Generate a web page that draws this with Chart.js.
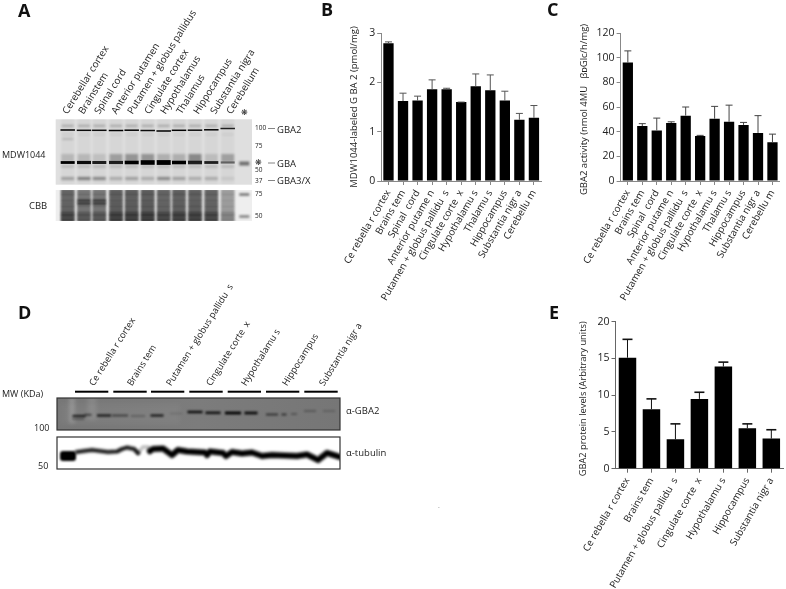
<!DOCTYPE html>
<html><head><meta charset="utf-8">
<style>
html,body{margin:0;padding:0;background:#fff;width:786px;height:589px;overflow:hidden}
#page{position:relative;width:786px;height:589px;font-family:"Open Sans",sans-serif;color:#222}
canvas{position:absolute}
.t{position:absolute;white-space:pre;line-height:1;transform-origin:0 100%}
.c{transform:translateY(-50%);transform-origin:0 50%}
</style>
<script src="https://cdn.jsdelivr.net/npm/chart.js@4/dist/chart.umd.min.js"></script>
</head><body><div id="page">
<canvas id="gels" width="786" height="589" style="left:0;top:0"></canvas>
<canvas id="chartB" style="left:330px;top:20px"></canvas>
<canvas id="chartC" style="left:560px;top:20px"></canvas>
<canvas id="chartE" style="left:560px;top:310px"></canvas>
</div>
<script>
// ---- data ----
const regions11 = ["Ce rebella r cortex","Brains tem","Spinal  cord","Anterior putame n","Putamen + globus pallidu  s","Cingulate corte  x","Hypothalamu s","Thalamu s","Hippocampus","Substantia nigr a","Cerebellu m"];
const regions7 = ["Ce rebella r cortex","Brains tem","Putamen + globus pallidu  s","Cingulate corte  x","Hypothalamu s","Hippocampus","Substantia nigr a"];
const laneLabelsA = ["Cerebellar cortex","Brainstem","Spinal cord","Anterior putamen","Putamen + globus pallidus","Cingulate cortex","Hypothalamus","Thalamus","Hippocampus","Substantia nigra","Cerebellum"];
const labeledGBA2 = [2.79,1.62,1.63,1.86,1.86,1.60,1.92,1.84,1.63,1.24,1.28];
const labeledGBA2Top = [2.82,1.78,1.72,2.05,1.88,1.60,2.17,2.15,1.82,1.37,1.53];
const activityGBA2 = [96,44.5,41,47,53,36.5,50.5,48,45.5,39,31.5];
const activityGBA2Top = [105.5,46.5,51,48,60,37,60.5,61.5,47.5,53,38];
const proteinGBA2 = [15.1,8.1,4.0,9.5,13.9,5.5,4.1];
const proteinGBA2Top = [17.6,9.5,6.1,10.4,14.5,6.1,5.3];
const ticksB = [0,1,2,3], ticksC = [0,20,40,60,80,100,120], ticksE = [0,5,10,15,20];

// ---- charts ----
const FONT = '"Open Sans",sans-serif';
const errorBars = {
  id:'errorBars',
  afterDatasetsDraw(chart, a, o){
    const ctx = chart.ctx, x = chart.scales.x, y = chart.scales.y;
    ctx.save(); ctx.strokeStyle = o.color; 
    o.top.forEach((v,i)=>{
      const px = x.getPixelForValue(i), b = y.getPixelForValue(chart.data.datasets[0].data[i]), t = y.getPixelForValue(v);
      ctx.lineWidth = 1; ctx.beginPath(); ctx.moveTo(px,b); ctx.lineTo(px,t); ctx.stroke();
      ctx.lineWidth = o.capWidth; ctx.beginPath(); ctx.moveTo(px-o.cap,t); ctx.lineTo(px+o.cap,t); ctx.stroke();
    });
    ctx.restore();
  }
};
function bar(id, cfg){
  const el = document.getElementById(id);
  el.style.width = cfg.w+'px'; el.style.height = cfg.h+'px';
  return new Chart(el,{
    type:'bar',
    data:{labels:cfg.labels,datasets:[{data:cfg.values,backgroundColor:'#000',categoryPercentage:cfg.barFrac,barPercentage:1}]},
    plugins:[errorBars],
    options:{
      responsive:false, animation:false, devicePixelRatio:1,
      layout:{padding:{top:cfg.top,right:cfg.right,left:0,bottom:0}},
      plugins:{legend:{display:false},tooltip:{enabled:false},errorBars:{top:cfg.tops,color:cfg.errColor,cap:cfg.cap,capWidth:cfg.capWidth}},
      scales:{
        x:{
          grid:{drawOnChartArea:false,tickLength:4,color:cfg.axisColor,offset:false},
          border:{color:cfg.axisColor},
          ticks:{autoSkip:false,minRotation:60,maxRotation:60,padding:3,color:'#222',font:{family:FONT,size:cfg.labelSize}},
          afterFit(s){s.height = cfg.h-cfg.bottomY; s.paddingLeft=0; s.paddingRight=0;}
        },
        y:{
          min:0,max:cfg.max,
          afterBuildTicks(s){s.ticks = cfg.ticks.map(v=>({value:v}));},
          grid:{drawOnChartArea:false,tickLength:4,color:cfg.axisColor},
          border:{color:cfg.axisColor},
          ticks:{padding:2,color:'#222',font:{family:FONT,size:cfg.tickSize}},
          title:{display:true,text:cfg.title,color:'#222',padding:{top:cfg.titlePad,bottom:0},font:{family:FONT,size:cfg.titleSize}},
          afterFit(s){s.width = cfg.left; s.paddingTop=0; s.paddingBottom=0;}
        }
      }
    }
  });
}
bar('chartB',{w:216,h:290,labels:regions11,values:labeledGBA2,tops:labeledGBA2Top,max:3,ticks:ticksB,
  title:'MDW1044-labeled G BA 2 (pmol/mg)',titlePad:19,titleSize:9.5,tickSize:10.5,labelSize:9.8,
  left:51.2,right:4.8,top:13,bottomY:161,barFrac:.71,errColor:'#555',cap:3.5,capWidth:1,axisColor:'#888'});
bar('chartC',{w:225,h:290,labels:regions11,values:activityGBA2,tops:activityGBA2Top,max:120,ticks:ticksC,
  title:'GBA2 activity (nmol 4MU   βᴅGlc/h/mg)  ',titlePad:19,titleSize:9.5,tickSize:10.5,labelSize:9.8,
  left:60.6,right:5.3,top:13,bottomY:161,barFrac:.71,errColor:'#444',cap:3.5,capWidth:1,axisColor:'#888'});
bar('chartE',{w:225,h:279,labels:regions7,values:proteinGBA2,tops:proteinGBA2Top,max:20,ticks:ticksE,
  title:'GBA2 protein levels (Arbitrary units)   ',titlePad:18,titleSize:9.3,tickSize:10.5,labelSize:9.8,
  left:55.5,right:1.7,top:11.7,bottomY:158.7,barFrac:.73,errColor:'#111',cap:5,capWidth:1.6,axisColor:'#666'});

// ---- text outside the charts ----
const page = document.getElementById('page');
function text(s,x,y,size,opt={}){
  const e=document.createElement('span');
  e.className='t'+(opt.rot?'':' c'); e.textContent=s;
  e.style.left=x+'px'; e.style.fontSize=size+'px';
  if(opt.bold) e.style.fontWeight='700';
  if(opt.color) e.style.color=opt.color;
  if(opt.rot){e.style.top=(y-size)+'px'; e.style.transform='rotate('+(-opt.rot)+'deg)';} else e.style.top=y+'px';
  page.appendChild(e);
}
[['A',18,10],['B',321,9],['C',547,9],['D',18,312],['E',549,312]].forEach(p=>text(p[0],p[1],p[2],18,{bold:true,color:'#111'}));
const laneXA=[69,85,101,118,134,150.5,166.5,183,200,217,233];
laneLabelsA.forEach((s,i)=>text(s,laneXA[i],116,9.8,{rot:58}));
text('❋',241,112,8);
[['100',255,128],['75',255,146],['50',255,170],['37',255,181],['75',255,194],['50',255,216]].forEach(p=>text(p[0],p[1],p[2],6.5));
text('❋',255,162,8);
text('MDW1044',2,154,9); text('CBB',29,206,9.5);
[['GBA2',277,129.5],['GBA',277,163.5],['GBA3/X',277,181]].forEach(p=>text(p[0],p[1],p[2],9.5));
const laneLabelsD=regions7, laneXD=[95,133,172,212,247,288,325];
laneLabelsD.forEach((s,i)=>text(s,laneXD[i],387,9.2,{rot:58}));
text('MW (KDa)',2,393,9); text('100',34,427,9); text('50',38,465,9);
text('α-GBA2',346,411,9.5); text('α-tubulin',346,453,9.5);
text('.',438,505,7,{color:'#888'});

// ---- gel images ----
const ctx=document.getElementById('gels').getContext('2d');
function blurred(b,f){ctx.save();ctx.filter='blur('+b+'px)';f();ctx.restore();}
function band(x,y,w,h,c,a){ctx.fillStyle=c||'#000';ctx.globalAlpha=a==null?1:a;ctx.fillRect(x-w/2,y-h/2,w,h);ctx.globalAlpha=1;}
// panel A, MDW1044 gel
const lanesA=[67.7,84,99.3,116,131.7,147.7,163.7,179,195,211.3,227.7];
const gba2Y=[130,130.3,130.3,130.5,130.2,130.5,131,130.3,130.2,129.8,128.5];
const gba2A=[1,.95,.95,1,1,.95,1,1,.95,1,.85];
const gbaH=[2.8,3.2,3,3.2,3.6,4.6,4.8,3.6,3.6,2.8,2.2];
const gbaA=[1,.95,.85,.85,1,1,1,1,.85,.85,.5];
const gba3A=[.25,.4,.35,.2,.25,.2,.35,.25,.2,.2,.07];
const smearA=[.14,.14,.1,.26,.3,.3,.18,.18,.36,.12,.25];
ctx.fillStyle='#dfdfdf';ctx.fillRect(55.7,119.3,196.3,65.4);
ctx.save();ctx.beginPath();ctx.rect(55.7,119.3,196.3,65.4);ctx.clip();
blurred(1.2,()=>{
  lanesA.forEach((x,i)=>{
    band(x,150,13,68,'#000',.04);
    band(x,125.8,12,2,'#000',.22);
    band(x,158,13,8,'#000',smearA[i]);
    band(x,166.5,13,3,'#000',.12);
    band(x,134.5,12,2,'#000',.05);
    band(x,178.5,13,3.2,'#000',gba3A[i]);
  });
  band(67.7,139,11,1.5,'#000',.2);
  band(244.3,163.5,10,4,'#000',.5);
});
blurred(.45,()=>lanesA.forEach((x,i)=>band(x,gba2Y[i],14.5,1.5,'#000',gba2A[i])));
blurred(.7,()=>lanesA.forEach((x,i)=>band(x,162.5,14,gbaH[i],'#000',gbaA[i])));
ctx.restore();
// panel A, CBB strip
const cbbY=[191.5,194.5,197.5,200.5,203.5,206.5,209.5,212.5,215,217.5,220];
const cbbDark=[.45,.55,.4,.5,.45,.55,.45,.7,.9,.7,.9];
const cbbLane=[.95,.8,.8,1.05,1.05,1.1,.95,1,1,.95,.5];
ctx.fillStyle='#eeeeee';ctx.fillRect(55.7,190,196.3,31);
ctx.save();ctx.beginPath();ctx.rect(55.7,190,196.3,31);ctx.clip();
blurred(1,()=>{
  lanesA.forEach((x,i)=>{
    band(x,205,13.5,34,'#555',.7*Math.min(cbbLane[i],1));
    cbbY.forEach((y,j)=>{
      let a=cbbDark[j]*cbbLane[i];
      if((i==1||i==2)&&j>=3&&j<=4) a=.9;
      band(x,y,13.5,2.4,'#1a1a1a',a);
    });
  });
  band(244.3,194.5,10,2.5,'#222',.6);
  band(244.3,216.5,10,3,'#222',.45);
});
ctx.restore();
// panel D header bars
const headerX=[[75,108.3],[113.3,146.7],[151,184.3],[189.3,222.7],[227.7,261],[266,299.3],[304.3,337.7]];
ctx.fillStyle='#000';headerX.forEach(b=>ctx.fillRect(b[0],390.7,b[1]-b[0],2));
// panel D, GBA2 blot
const grad=ctx.createLinearGradient(57,0,340,0);
grad.addColorStop(0,'#777');grad.addColorStop(.5,'#7c7c7c');grad.addColorStop(1,'#767676');
ctx.fillStyle=grad;ctx.fillRect(57,398,283,32);
blurred(2,()=>{band(72,410,5,26,'#fff',.22);band(92,408,9,24,'#fff',.1);band(120,414,120,20,'#fff',.04);});
const gbaBands=[[79,416,13,2,.75],[88,414.8,7,1.6,.55],[104,415.5,14,2,.8],[120,415.5,16,1.5,.55],[138,416,14,1,.35],[157,415.5,13,2,.8],[176,413.5,12,1.3,.15],[195,412,15,2.2,.9],[213,412.8,15,2.3,.85],[233,413,16,2.5,1],[251,413,13,2.5,.9],[272,414.5,12,1.6,.6],[284,414.5,5,1.6,.6],[294,414,6,1.3,.35],[310,411,12,1.5,.28],[329,411,12,1.3,.22],[78,419,12,1.6,.3]];
ctx.save();ctx.beginPath();ctx.rect(57,398,283,32);ctx.clip();
blurred(.8,()=>gbaBands.forEach(b=>band(b[0],b[1],b[2],b[3]+.3,'#000',b[4])));
ctx.restore();
ctx.strokeStyle='#333';ctx.lineWidth=1.2;ctx.strokeRect(57,398,283,32);
// panel D, tubulin blot
const tubulinLine=[[77,452],[84,451],[92,450],[100,451],[108,452],[117,451.5],[122,449],[127,447.5],[134,449],[138,453]];
const tubulinLine2=[[150,451],[153,449],[163,448.5],[172,455],[178,450],[187,451.5],[205,452.5],[207,455],[210,451.5],[223,453],[226,456],[232,452],[242,453.5],[252,452.5],[262,456],[272,455],[297,456],[307,454.5],[318,460],[327,453],[340,457]];
const faintLine=[[138,453],[143,447],[148,447],[150,451]];
ctx.fillStyle='#fff';ctx.fillRect(57,437,283,32);
ctx.save();ctx.beginPath();ctx.rect(57,437,283,32);ctx.clip();
function stroke(p,w,a){ctx.globalAlpha=a;ctx.lineWidth=w;ctx.strokeStyle='#000';ctx.lineJoin='round';ctx.lineCap='round';ctx.beginPath();p.forEach((q,i)=>i?ctx.lineTo(q[0],q[1]):ctx.moveTo(q[0],q[1]));ctx.stroke();ctx.globalAlpha=1;}
blurred(1,()=>{
  ctx.fillStyle='#000';ctx.beginPath();ctx.roundRect(60,451,16,10,3);ctx.fill();
  stroke(tubulinLine,6,.28);stroke(tubulinLine2,8,.3);stroke(faintLine,4,.22);
  stroke(tubulinLine,3.2,.85);stroke(tubulinLine2,5,1);
});
ctx.restore();
ctx.strokeStyle='#333';ctx.lineWidth=1.2;ctx.strokeRect(57,437,283,32);
// tick dashes beside the labels
ctx.strokeStyle='#666';ctx.lineWidth=.8;
[[268,275,128.5],[268,275,163],[268,275,180.5]].forEach(d=>{ctx.beginPath();ctx.moveTo(d[0],d[2]);ctx.lineTo(d[1],d[2]);ctx.stroke();});
</script></body></html>
